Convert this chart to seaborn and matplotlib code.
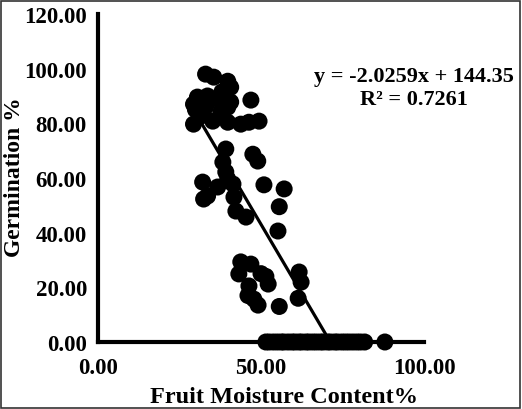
import numpy as np
import pandas as pd
import seaborn as sns
import matplotlib.pyplot as plt
from matplotlib.patches import Rectangle

# Fruit moisture content (%) and germination (%)
moisture = [
    # upper cluster
    33.0, 35.5, 39.8, 40.7, 46.9, 30.5, 33.6, 36.7, 40.7, 29.3, 29.9, 31.5,
    37.7, 29.3, 35.2, 39.8, 43.8, 46.3, 49.4, 33.0, 38.0, 39.8,
    # middle
    39.2, 47.5, 49.0, 38.3, 39.2, 32.1, 36.7, 41.4, 39.8, 32.4, 33.6, 41.7,
    50.9, 57.1, 42.3, 45.4, 55.6, 55.2,
    # lower
    43.8, 46.9, 43.2, 50.0, 51.5, 46.3, 52.2, 47.8, 46.0, 49.1, 55.6, 61.7,
    62.3, 61.4,
    # zero germination
    51.5, 52.5, 53.8, 55.0, 56.2, 57.0, 58.3, 59.5, 60.4, 61.6, 62.5, 63.8,
    64.7, 65.9, 67.0, 68.2, 69.1, 70.4, 71.3, 72.6, 73.5, 74.8, 75.9, 77.0,
    78.2, 79.4, 80.5, 81.8, 88.0,
]
germination = [
    98.0, 96.9, 95.4, 93.2, 88.5, 89.6, 90.0, 88.8, 87.8, 87.0, 85.0, 82.6,
    84.1, 79.7, 80.8, 80.4, 79.7, 80.4, 80.8, 86.0, 91.5, 85.9,
    70.6, 68.7, 66.2, 65.8, 62.2, 58.5, 56.7, 57.8, 59.6, 52.3, 53.4, 53.0,
    57.5, 56.0, 47.9, 45.7, 49.5, 40.6,
    29.3, 28.5, 24.9, 25.0, 24.0, 20.5, 21.2, 15.7, 17.0, 13.5, 13.0, 25.6,
    21.9, 16.0,
    0, 0, 0, 0, 0, 0, 0, 0, 0, 0, 0, 0,
    0, 0, 0, 0, 0, 0, 0, 0, 0, 0, 0, 0,
    0, 0, 0, 0, 0,
]

# trendline from the printed equation
slope = -2.0259
intercept = 144.35
r2 = 0.7261

df = pd.DataFrame({'moisture': moisture, 'germination': germination})

sns.set_style('white')
plt.rcParams['font.family'] = ['Liberation Serif', 'DejaVu Serif']
plt.rcParams['font.weight'] = 'bold'
plt.rcParams['text.color'] = 'black'
plt.rcParams['axes.labelcolor'] = 'black'
plt.rcParams['xtick.color'] = 'black'
plt.rcParams['ytick.color'] = 'black'

fig = plt.figure(figsize=(5.22, 4.10), dpi=100)
ax = fig.add_axes([98 / 522, 1 - 343 / 410, 326 / 522, 328 / 410])

sns.scatterplot(data=df, x='moisture', y='germination', ax=ax, color='black',
                s=150, edgecolor='none', clip_on=False, zorder=3, legend=False)

x_fit = np.array([df['moisture'].min(), -intercept / slope])
y_fit = slope * x_fit + intercept
sns.lineplot(x=x_fit, y=y_fit, ax=ax, color='black', linewidth=2.3, zorder=2)

ax.set_xlim(0, 100)
ax.set_ylim(0, 120)
ax.set_xticks([0, 50, 100])
ax.set_yticks(np.arange(0, 121, 20))
ax.set_xticklabels([f'{v:.2f}' for v in [0, 50, 100]])
ax.set_yticklabels([f'{v:.2f}' for v in np.arange(0, 121, 20)])

for side in ['top', 'right']:
    ax.spines[side].set_visible(False)
for side in ['left', 'bottom']:
    ax.spines[side].set_linewidth(3)
    ax.spines[side].set_color('black')

ax.tick_params(axis='both', direction='out', length=5, width=2.5, color='black',
               labelcolor='black', labelsize=16.5)
ax.tick_params(axis='x', pad=6)
ax.tick_params(axis='y', pad=3)
for lbl in ax.get_xticklabels() + ax.get_yticklabels():
    lbl.set_fontweight('bold')

ax.set_xlabel('Fruit Moisture Content%', fontsize=17.5, fontweight='bold', va='center')
ax.set_ylabel('Germination %', fontsize=17, fontweight='bold', va='center')
ax.xaxis.set_label_coords(0.571, -0.165)
ax.yaxis.set_label_coords(-0.255, 0.506)

ax.text(0.97, 0.776, f'y = {slope}x + {intercept}\nR² = {r2}', transform=ax.transAxes,
        fontsize=16, fontweight='bold', ha='center', va='center', linespacing=1.2)

# thin frame around the whole picture
fig.patches.append(Rectangle((0.002, 0.003), 0.995, 0.993, transform=fig.transFigure,
                             fill=False, edgecolor='#333333', linewidth=1.2))

fig.savefig('out.png', dpi=100)
